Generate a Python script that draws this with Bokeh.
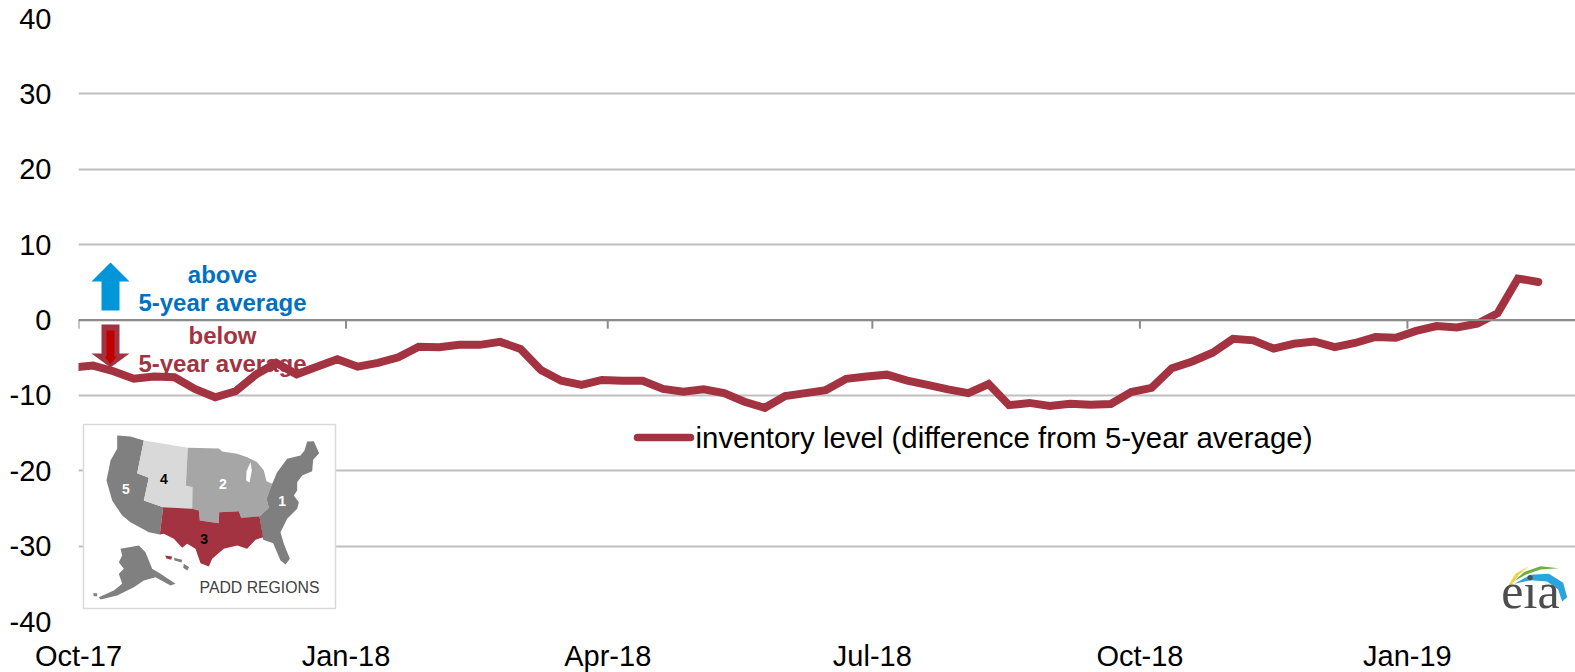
from datetime import datetime, timedelta

from bokeh.core.properties import value
from bokeh.embed import file_html
from bokeh.models import FixedTicker, Range1d, Span
from bokeh.plotting import figure
from bokeh.resources import INLINE

# Weekly inventory level, difference from the 5-year average
first_week = datetime(2017, 9, 29)
inventory_diff = [
    -6.3, -6.05, -6.8, -7.8, -7.5, -7.6, -9.15, -10.25, -9.45, -7.25, -5.7, -7.2, -6.2, -5.2,
    -6.2, -5.7, -4.95, -3.55, -3.6, -3.3, -3.3, -2.9, -3.85, -6.65, -8.05, -8.6, -7.95, -8.05,
    -8.05, -9.15, -9.5, -9.2, -9.7, -10.85, -11.65, -10.1, -9.7, -9.3, -7.8, -7.5, -7.25, -8.05,
    -8.6, -9.2, -9.7, -8.5, -11.3, -11.0, -11.4, -11.1, -11.25, -11.15, -9.55, -9.0, -6.4, -5.5,
    -4.35, -2.5, -2.7, -3.8, -3.15, -2.85, -3.6, -3.05, -2.25, -2.35, -1.45, -0.8, -1.0, -0.5,
    0.9, 5.5, 5.05,
]
week_dates = [first_week + timedelta(days=7 * i) for i in range(len(inventory_diff))]

x_tick_dates = [datetime(2017, 10, 1), datetime(2018, 1, 1), datetime(2018, 4, 1),
                datetime(2018, 7, 1), datetime(2018, 10, 1), datetime(2019, 1, 1)]
x_tick_labels = ["Oct-17", "Jan-18", "Apr-18", "Jul-18", "Oct-18", "Jan-19"]
y_ticks = [-40, -30, -20, -10, 0, 10, 20, 30, 40]
y_tick_labels = ["-40", "-30", "-20", "-10", "0", "10", "20", "30", "40"]
series_label = "inventory level (difference from 5-year average)"

LINE_RED = "#A33340"
FONT = "Liberation Sans"
LEFT, RIGHT, TOP, BOTTOM = 78, 1575, 18, 621


def ms(d):
    return (d - datetime(1970, 1, 1)).total_seconds() * 1000


p = figure(
    width=1575, height=672, output_backend="svg", toolbar_location=None,
    x_axis_type="datetime",
    x_range=Range1d(x_tick_dates[0], x_tick_dates[0] + timedelta(days=514.8)),
    y_range=Range1d(-40, 40),
    frame_width=RIGHT - LEFT, frame_height=BOTTOM - TOP,
    min_border_left=LEFT, min_border_right=0, min_border_top=TOP, min_border_bottom=672 - BOTTOM,
    background_fill_color="white", border_fill_color="white", outline_line_color=None,
)
# A second pair of ranges in page pixels carries the annotations and inset map
p.extra_x_ranges["page_x"] = Range1d(LEFT, RIGHT)
p.extra_y_ranges["page_y"] = Range1d(BOTTOM, TOP)
page = dict(x_range_name="page_x", y_range_name="page_y")

p.xgrid.visible = False
p.ygrid.ticker = FixedTicker(ticks=y_ticks)
p.ygrid.grid_line_color = "#BFBFBF"
p.ygrid.grid_line_width = 2

p.yaxis.ticker = FixedTicker(ticks=y_ticks)
p.yaxis.major_label_overrides = dict(zip(y_ticks, y_tick_labels))
p.yaxis.axis_line_color = None
p.yaxis.major_tick_line_color = None
p.yaxis.minor_tick_line_color = None
p.yaxis.major_label_standoff = 21
p.yaxis.major_label_text_font = FONT
p.yaxis.major_label_text_font_size = "29px"
p.yaxis.major_label_text_color = "black"

x_ticks_ms = [ms(d) for d in x_tick_dates]
p.xaxis.ticker = FixedTicker(ticks=x_ticks_ms)
p.xaxis.major_label_overrides = dict(zip(x_ticks_ms, x_tick_labels))
p.xaxis.axis_line_color = None
p.xaxis.major_tick_line_color = None
p.xaxis.minor_tick_line_color = None
p.xaxis.major_label_standoff = 12
p.xaxis.major_label_text_font = FONT
p.xaxis.major_label_text_font_size = "29px"
p.xaxis.major_label_text_color = "black"

# Zero line with its downward date ticks
p.add_layout(Span(location=0, dimension="width", line_color="#8C8C8C", line_width=2))
p.segment(x_tick_dates, [0] * len(x_tick_dates), x_tick_dates, [-1.15] * len(x_tick_dates),
          line_color="#8C8C8C", line_width=2)


def label(x, y, text, color="black", size=24, style="bold", align="center", font=FONT):
    # y is the text's foot; glyphs are centred on half of their cap height above it
    p.text([x], [y - 0.36 * size], text=[text], text_color=color, text_font=value(font),
           text_font_size=f"{size}px", text_font_style=style, text_align=align,
           text_baseline="middle", **page)


# Above / below direction markers
p.patch([110, 129, 119, 119, 101, 101, 91], [262, 281, 281, 310, 310, 281, 281],
        fill_color="#0096D7", line_color=None, **page)
p.patch([101, 119, 119, 129, 110, 91, 101], [324, 324, 353, 353, 367, 353, 353],
        fill_color=LINE_RED, line_color=None, **page)
p.patch([106, 114, 114, 116, 110, 104, 106], [330, 330, 356, 356, 364, 356, 356],
        fill_color="#C00000", line_color=None, **page)
label(222, 283, "above", "#0070C0")
label(222, 311, "5-year average", "#0070C0")
label(222, 344, "below", LINE_RED)
label(222, 372, "5-year average", LINE_RED)

p.line(week_dates, inventory_diff, line_color=LINE_RED, line_width=8,
       line_join="miter", line_cap="round")

# Series key
p.line([637, 690], [437, 437], line_color=LINE_RED, line_width=7.5, line_cap="round", **page)
label(695, 448, series_label, "black", 29.4, "normal", "left")

# Inset map of the PADD regions, outlines given in inset coordinates
padd5 = [(110, 45), (150, 48), (190, 60), (170, 158), (205, 172), (190, 240), (248, 260), (238, 342),
         (205, 335), (150, 305), (125, 285), (95, 240), (78, 180), (90, 120), (110, 85)]
padd4 = [(190, 60), (322, 82), (316, 195), (336, 200), (335, 265), (248, 260), (190, 240),
         (205, 172), (170, 158)]
padd2 = [(322, 82), (415, 84), (425, 93), (470, 100), (500, 110), (530, 125), (550, 150), (558, 182),
         (575, 190), (558, 235), (565, 262), (535, 290), (482, 292),
         (475, 272), (416, 275), (415, 308), (358, 300), (355, 270), (335, 265), (336, 200), (316, 195)]
padd1 = [(680, 63), (700, 62), (716, 98), (698, 118), (695, 152), (665, 165), (650, 185), (650, 210),
         (640, 225), (655, 245), (650, 265), (620, 295), (600, 335), (610, 370), (628, 415), (615, 432),
         (600, 420), (578, 368), (548, 358), (537, 288), (565, 262), (558, 235), (575, 190), (590, 155),
         (620, 115), (660, 105), (672, 90)]
padd3 = [(248, 260), (335, 265), (355, 270), (358, 300), (415, 308), (416, 275), (475, 272), (482, 292),
         (537, 288), (548, 350), (525, 358), (500, 385), (470, 375), (430, 385), (395, 415), (385, 438),
         (360, 428), (345, 385), (320, 370), (305, 382), (280, 355), (250, 340), (238, 342)]
alaska = [(120, 385), (175, 375), (195, 395), (215, 445), (240, 460), (285, 490), (270, 495), (225, 470),
          (190, 480), (160, 500), (110, 525), (60, 537), (55, 530), (100, 510), (125, 490), (115, 460),
          (130, 445), (115, 425), (125, 405)]
aleutian_tip = [(38, 518), (50, 518), (50, 527), (40, 527)]
hawaii_west = [(280, 412), (305, 418), (303, 426), (282, 420)]
hawaii_big = [(310, 430), (326, 440), (320, 450), (308, 442)]
hawaii_red = [(254, 405), (275, 408), (272, 418), (258, 414)]
lake = [(510, 125), (514, 150), (507, 186), (497, 180), (498, 152)]


def inset_x(z):
    return 80 + z / 3


def inset_y(z):
    return 420 + z / 3


def region(points, color):
    p.patch([inset_x(a) for a, _ in points], [inset_y(b) for _, b in points],
            fill_color=color, line_color=None, **page)


p.quad(left=[83], right=[335], top=[424], bottom=[608], fill_color="white",
       line_color="#D9D9D9", line_width=1.5, **page)
region(padd5, "#808080")
region(padd4, "#D9D9D9")
region(padd2, "#A6A6A6")
region(padd1, "#7F7F7F")
region(padd3, LINE_RED)
region(alaska, "#808080")
region(aleutian_tip, "#808080")
region(hawaii_west, "#808080")
region(hawaii_big, "#808080")
region(hawaii_red, LINE_RED)
region(lake, "white")

for num, zx, zy, col in [("5", 136, 222, "white"), ("4", 250, 192, "black"), ("2", 427, 206, "white"),
                         ("1", 605, 257, "white"), ("3", 371, 372, "black")]:
    label(inset_x(zx), inset_y(zy), num, col, 14)
label(259, 593, "PADD REGIONS", "#404040", 15.8, "normal")

# Agency mark
yellow = [(55, 88), (75, 55), (115, 32), (85, 58), (62, 90)]
green = [(70, 78), (100, 50), (150, 32), (205, 38), (150, 42), (105, 58)]
blue = [(72, 85), (120, 58), (175, 55), (218, 82), (230, 125), (215, 138), (203, 102), (170, 78), (120, 74)]
for shape, col in [(yellow, "#F2D13E"), (green, "#6FAE3F"), (blue, "#2BA4DC")]:
    p.patch([1490 + a / 3 for a, _ in shape], [555 + b / 3 for _, b in shape],
            fill_color=col, line_color=None, **page)
label(1530, 608, "eia", "#4D4D4D", 50, "normal", "center", "Liberation Serif")

open("out.html", "w").write(file_html(p, INLINE))
